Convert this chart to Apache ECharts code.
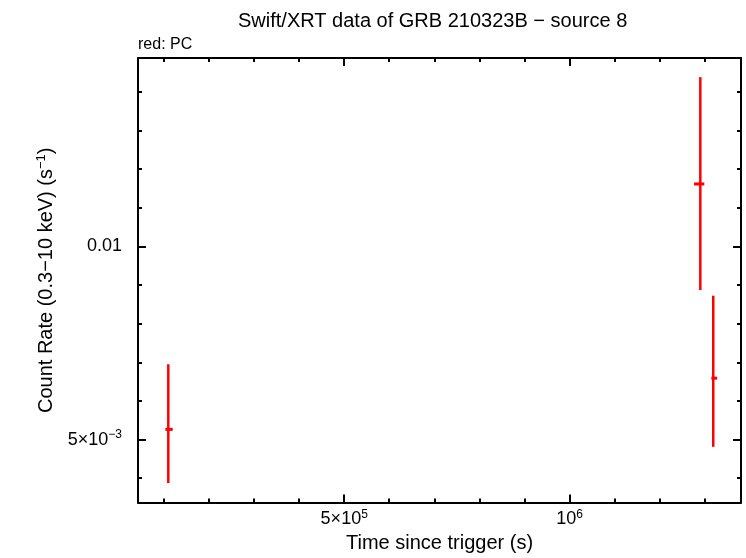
<!DOCTYPE html>
<html>
<head>
<meta charset="utf-8">
<script src="https://cdn.jsdelivr.net/npm/echarts@6/dist/echarts.min.js"></script>
<style>html,body{margin:0;padding:0;background:#fff;}#c{width:746px;height:558px;}</style>
</head>
<body>
<div id="c"></div>
<script>
// Data
const timeVals = [2.910e5, 1.4956e6, 1.5563e6];
const timeLo   = [2.884e5, 1.467e6, 1.547e6];
const timeHi   = [2.950e5, 1.514e6, 1.575e6];
const rateVals = [5.186e-3, 0.012515, 6.232e-3];
const rateLo   = [4.277e-3, 8.55e-3, 4.871e-3];
const rateHi   = [6.551e-3, 0.018365, 8.38e-3];

// Axis ticks
const xMajorTicks = [5e5, 1e6];
const xMinorTicks = [2.872e5, 3.299e5, 3.789e5, 4.353e5, 5.743e5, 6.598e5, 7.579e5, 8.706e5, 1.1487e6, 1.3195e6, 1.5157e6];
const yMajorTicks = [5e-3, 0.01];
const yMinorTicks = [4.353e-3, 5.743e-3, 6.598e-3, 7.579e-3, 8.706e-3, 0.011487, 0.013195, 0.015157, 0.017411];
const xRange = [2.651e5, 1.695e6];
const yRange = [3.987e-3, 0.01967];

const FONT = 'Liberation Sans, Arial, Helvetica, sans-serif';
const rich = {
  base: {fontFamily: FONT, fontSize: 18, color: '#000'},
  sup: {fontFamily: FONT, fontSize: 12, color: '#000', verticalAlign: 'bottom', padding: [0, 0, 9, 0]}
};
function xLabel(v) {
  if (Math.abs(v - 5e5) < 1) return '{base|5×10}{sup|5}';
  if (Math.abs(v - 1e6) < 1) return '{base|10}{sup|6}';
  return '';
}
function yLabel(v) {
  if (Math.abs(v - 0.01) < 1e-6) return '{base|0.01}';
  if (Math.abs(v - 5e-3) < 1e-6) return '{base|5×10}{sup|−3}';
  return '';
}

const data = timeVals.map((t, i) => [t, rateVals[i], timeLo[i], timeHi[i], rateLo[i], rateHi[i]]);

function mkX(pos, ticks, len, show, labels) {
  return {
    type: 'log', position: pos, min: xRange[0], max: xRange[1],
    axisLine: {show: show, onZero: false, lineStyle: {color: '#000', width: 2}},
    axisTick: {show: true, inside: true, length: len, customValues: ticks, lineStyle: {color: '#000', width: 2}},
    axisLabel: labels ? {show: true, customValues: xMajorTicks, formatter: xLabel, margin: 6, rich: rich} : {show: false},
    splitLine: {show: false}, minorTick: {show: false}
  };
}
function mkY(pos, ticks, len, show, labels) {
  return {
    type: 'log', position: pos, min: yRange[0], max: yRange[1],
    axisLine: {show: show, onZero: false, lineStyle: {color: '#000', width: 2}},
    axisTick: {show: true, inside: true, length: len, customValues: ticks, lineStyle: {color: '#000', width: 2}},
    axisLabel: labels ? {show: true, customValues: yMajorTicks, formatter: yLabel, margin: 16, rich: rich} : {show: false},
    splitLine: {show: false}, minorTick: {show: false}
  };
}

const xAxes = [
  mkX('bottom', xMajorTicks, 8, true, true),
  mkX('bottom', xMinorTicks, 4, false, false),
  mkX('top', xMajorTicks, 8, true, false),
  mkX('top', xMinorTicks, 4, false, false)
];
xAxes[0].name = 'Time since trigger (s)';
xAxes[0].nameLocation = 'middle';
xAxes[0].nameGap = 30;
xAxes[0].nameTextStyle = {fontFamily: FONT, fontSize: 20, color: '#000'};

const yAxes = [
  mkY('left', yMajorTicks, 8, true, true),
  mkY('left', yMinorTicks, 4, false, false),
  mkY('right', yMajorTicks, 8, true, false),
  mkY('right', yMinorTicks, 4, false, false)
];
yAxes[0].name = '{base|Count Rate (0.3−10 keV) (s}{sup|−1}{base|)}';
yAxes[0].nameLocation = 'middle';
yAxes[0].nameGap = 80;
yAxes[0].nameTextStyle = {rich: {
  base: {fontFamily: FONT, fontSize: 20, color: '#000'},
  sup: {fontFamily: FONT, fontSize: 13, color: '#000', verticalAlign: 'bottom', padding: [0, 0, 10, 0]}
}};

const chart = echarts.init(document.getElementById('c'), null, {renderer: 'canvas', width: 746, height: 558});
chart.setOption({
  animation: false,
  backgroundColor: '#fff',
  grid: {left: 138, width: 603, top: 58, height: 449, containLabel: false},
  title: [
    {text: 'Swift/XRT data of GRB 210323B − source 8', left: 238, top: 11, padding: 0,
     textStyle: {fontFamily: FONT, fontSize: 20, fontWeight: 'normal', color: '#000'}},
    {text: 'red: PC', left: 138, top: 37, padding: 0,
     textStyle: {fontFamily: FONT, fontSize: 16, fontWeight: 'normal', color: '#000'}}
  ],
  xAxis: xAxes,
  yAxis: yAxes,
  series: [{
    type: 'custom', xAxisIndex: 0, yAxisIndex: 0, clip: false,
    data: data,
    renderItem: function (params, api) {
      const x = api.value(0), y = api.value(1);
      const top = api.coord([x, api.value(5)]);
      const bot = api.coord([x, api.value(4)]);
      const l = api.coord([api.value(2), y]);
      const r = api.coord([api.value(3), y]);
      return {type: 'group', children: [
        {type: 'line', shape: {x1: top[0], y1: top[1], x2: bot[0], y2: bot[1]}, style: {stroke: '#ff0000', lineWidth: 2.5}},
        {type: 'line', shape: {x1: l[0], y1: l[1], x2: r[0], y2: r[1]}, style: {stroke: '#ff0000', lineWidth: 3}}
      ]};
    }
  }]
});
</script>
</body>
</html>
